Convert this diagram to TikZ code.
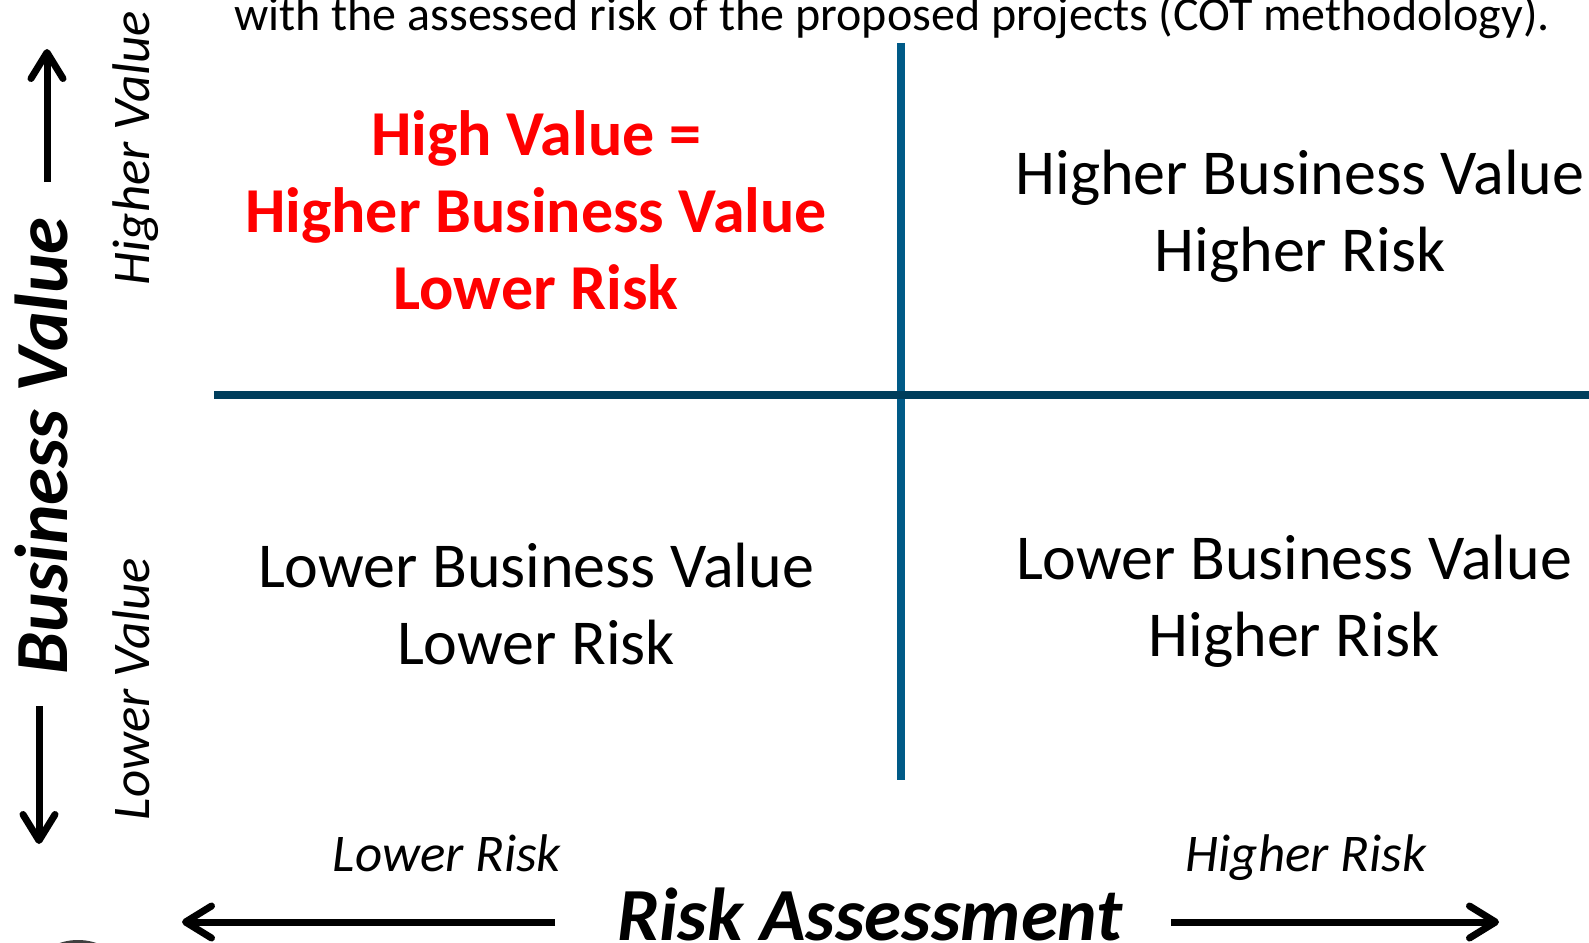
\documentclass[tikz,border=0pt]{standalone}
\usepackage{fontspec}
\setmainfont{Carlito}
\usetikzlibrary{arrows.meta}
\definecolor{vlinec}{RGB}{0,90,135}
\definecolor{hlinec}{RGB}{0,62,92}
\definecolor{redtxt}{RGB}{255,0,0}
\tikzset{
  quad/.style={inner sep=0pt, anchor=base, font=\fontsize{64}{76}\selectfont},
  redq/.style={inner sep=0pt, anchor=base, font=\fontsize{64}{76}\selectfont\bfseries, text=redtxt},
  axlab/.style={inner sep=0pt, anchor=base, font=\fontsize{53}{60}\selectfont\itshape},
  axtitle/.style={inner sep=0pt, anchor=base, font=\fontsize{75}{80}\selectfont\bfseries\itshape},
  axarrow/.style={line width=7pt, -{Straight Barb[length=26pt,width=32pt,round]}},
  topline/.style={inner sep=0pt, anchor=base, font=\fontsize{48}{56}\selectfont},
}
\begin{document}
\begin{tikzpicture}[x=1pt,y=-1pt]
\useasboundingbox (0,0) rectangle (1589,942);
\clip (0,0) rectangle (1589,942);
\fill[white] (0,0) rectangle (1589,942);

% top sentence (cut off)
\node[topline] (top) at (892,31) {with the assessed risk of the proposed projects (COT methodology).};

% quadrant lines
\coordinate (vtop) at (901,43);
\coordinate (vbot) at (901,780);
\coordinate (hl) at (214,395);
\coordinate (hr) at (1589,395);
\draw[vlinec, line width=8pt] (vtop) -- (vbot);
\draw[hlinec, line width=8pt] (hl) -- (hr);

% top-left (red)
\node[redq] (tl1) at (536,155) {High Value =};
\node[redq] (tl2) at (536,232) {Higher Business Value};
\node[redq] (tl3) at (536,309) {Lower Risk};

% top-right
\node[quad] (tr1) at (1300,194) {Higher Business Value};
\node[quad] (tr2) at (1300,271) {Higher Risk};

% bottom-left
\node[quad] (bl1) at (536,587) {Lower Business Value};
\node[quad] (bl2) at (536,664) {Lower Risk};

% bottom-right
\node[quad] (br1) at (1294,579) {Lower Business Value};
\node[quad] (br2) at (1294,656) {Higher Risk};

% x axis
\node[axlab] (lrisk) at (447,871) {Lower Risk};
\node[axlab] (hrisk) at (1306,871) {Higher Risk};
\node[axtitle] (ra) at (870,940) {Risk Assessment};
\coordinate (la0) at (555,922);
\coordinate (la1) at (182,922);
\coordinate (ra0) at (1171,922);
\coordinate (ra1) at (1499,922);
\draw[axarrow] (la0) -- (la1);
\draw[axarrow] (ra0) -- (ra1);

% y axis
\node[axtitle, rotate=90] (bv) at (67,446) {Business Value};
\node[axlab, rotate=90] (hv) at (149,148) {Higher Value};
\node[axlab, rotate=90] (lv) at (149,689) {Lower Value};
\coordinate (ua0) at (47,182);
\coordinate (ua1) at (47,49);
\coordinate (da0) at (39,706);
\coordinate (da1) at (39,844);
\draw[axarrow] (ua0) -- (ua1);
\draw[axarrow] (da0) -- (da1);

% cut-off shape at bottom-left
\fill[black!75] (78,964) ellipse (38 and 24);
\end{tikzpicture}
\end{document}
